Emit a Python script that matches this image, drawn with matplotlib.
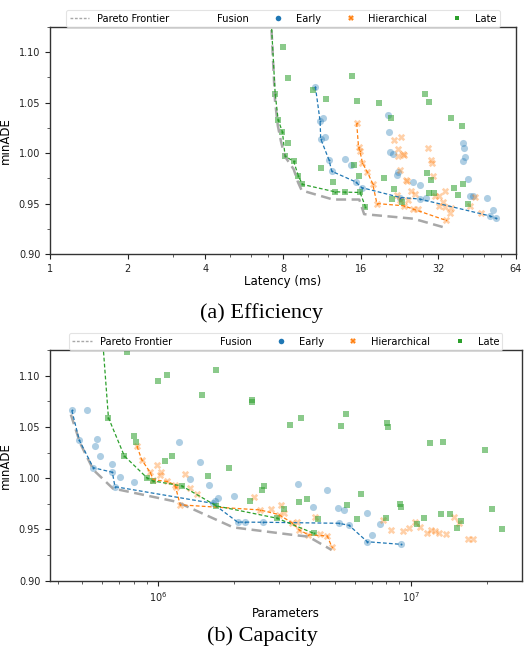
import numpy as np
import matplotlib
matplotlib.use("Agg")
import matplotlib.pyplot as plt
from matplotlib.lines import Line2D
from matplotlib.ticker import FixedLocator, FixedFormatter, NullFormatter, LogLocator

# ---------------- data: (a) Efficiency (latency in ms) ----------------
early_lat = [10.68, 11.14, 11.40, 11.2, 11.6, 12.07, 12.36, 13.92, 14.63, 15.3, 16.15,
             20.36, 20.67, 20.8, 21.3, 22.3, 22.1, 25.6, 27.1, 22.8, 28.7, 27.1,
             39.9, 40.4, 40.5, 40.0, 41.8, 42.6, 43.6, 49.4, 52.1, 50.6, 53.7]
early_ade_a = [1.066, 1.0316, 1.0352, 1.0142, 1.0155, 0.993, 0.982, 0.994, 0.988, 0.9715, 0.9658,
               1.038, 1.0214, 1.001, 0.9995, 0.981, 0.978, 0.9714, 0.9688, 0.956, 0.9555, 0.9545,
               1.010, 1.005, 0.996, 0.992, 0.974, 0.957, 0.9575, 0.9556, 0.944, 0.9378, 0.9352]

hier_lat = [15.44, 15.7, 15.9, 16.25, 17.0, 17.8, 18.5, 21.6, 23.0, 22.3, 22.4, 23.4, 23.6,
            29.3, 30.1, 30.2, 30.6, 22.7, 23.9, 24.2, 25.0, 25.9, 22.1, 22.7, 23.5, 24.4,
            25.6, 26.8, 31.1, 32.1, 34.1, 33.4, 33.9, 32.3, 35.8, 35.4, 34.3, 44.5, 42.6, 46.8]
hier_ade_a = [1.0296, 1.006, 1.002, 0.9905, 0.981, 0.9698, 0.950, 1.013, 1.016, 1.004, 0.997, 0.9995, 0.9978,
              1.005, 0.993, 0.9905, 0.9777, 0.9836, 0.9737, 0.9727, 0.9625, 0.959, 0.958, 0.9533, 0.9478, 0.9536,
              0.9445, 0.945, 0.9573, 0.9573, 0.9622, 0.9516, 0.9467, 0.948, 0.9454, 0.9408, 0.9333, 0.9563, 0.9477, 0.9405]

late_lat = [7.1, 8.0, 8.39, 14.77, 7.46, 10.43, 11.71, 15.44, 18.9, 7.66, 7.96, 8.37, 8.15, 8.80,
            11.2, 9.18, 15.13, 15.8, 12.47, 9.51, 12.69, 13.92, 15.91, 16.69, 19.64, 20.9,
            28.4, 29.5, 35.8, 39.4, 28.8, 30.0, 36.7, 40.0, 21.5, 29.4, 30.7, 38.1, 21.2, 23.1, 41.6]
late_ade_a = [1.16, 1.105, 1.074, 1.076, 1.059, 1.063, 1.054, 1.052, 1.050, 1.033, 1.021, 1.010, 0.997, 0.9918,
              0.985, 0.9773, 0.988, 0.977, 0.9714, 0.969, 0.9617, 0.9613, 0.961, 0.947, 0.975, 1.035,
              1.059, 1.051, 1.035, 1.027, 0.980, 0.973, 0.965, 0.969, 0.964, 0.9605, 0.9605, 0.958, 0.955, 0.952, 0.950]

pareto_lat = [7.1, 7.45, 7.64, 7.85, 8.12, 8.8, 9.15, 9.45, 12.5, 15.8, 16.5, 25.6, 34.1]
pareto_ade_a = [1.16, 1.052, 1.027, 1.012, 0.997, 0.984, 0.971, 0.963, 0.954, 0.954, 0.9395, 0.935, 0.926]

# ---------------- data: (b) Capacity (parameters) ----------------
early_par = [4.54e5, 5.2e5, 4.86e5, 5.7e5, 5.6e5, 5.88e5, 5.52e5, 6.53e5, 6.57e5, 7.03e5, 6.73e5, 8.03e5,
             1.205e6, 1.467e6, 1.336e6, 1.59e6, 1.73e6, 1.68e6, 1.64e6, 2.0e6, 2.06e6, 2.2e6, 2.6e6,
             3.59e6, 4.11e6, 4.65e6, 5.16e6, 5.44e6, 5.19e6, 5.7e6, 6.73e6, 7.55e6, 7.03e6, 6.73e6, 9.12e6]
early_ade_b = [1.066, 1.066, 1.037, 1.038, 1.0317, 1.022, 1.0102, 1.014, 1.0058, 1.0015, 0.9917, 0.9963,
               1.0356, 1.0161, 0.9995, 0.9937, 0.981, 0.978, 0.9755, 0.9826, 0.9572, 0.9571, 0.9570,
               0.9943, 0.972, 0.9885, 0.9712, 0.969, 0.956, 0.954, 0.9657, 0.9556, 0.9443, 0.938, 0.9355]

hier_par = [8.23e5, 8.6e5, 9.27e5, 9.55e5, 9.91e5, 1.025e6, 1.016e6, 1.08e6, 1.16e6, 1.17e6, 1.22e6,
            1.276e6, 1.337e6, 1.42e6, 2.40e6, 2.53e6, 2.79e6, 3.06e6, 3.15e6, 3.0e6, 3.40e6, 3.55e6,
            3.62e6, 3.93e6, 4.18e6, 4.37e6, 4.67e6, 4.87e6, 7.78e6, 8.34e6, 9.35e6, 9.87e6, 1.04e7,
            1.09e7, 1.16e7, 1.20e7, 1.25e7, 1.30e7, 1.38e7, 1.49e7, 1.56e7, 1.68e7, 1.77e7]
hier_ade_b = [1.031, 1.0178, 1.0058, 0.9985, 1.013, 1.0058, 1.003, 0.9968, 0.9937, 0.9915, 0.974,
              1.0038, 0.990, 0.9846, 0.982, 0.969, 0.9702, 0.9736, 0.9665, 0.9645, 0.9562, 0.9575,
              0.9495, 0.9448, 0.9622, 0.9456, 0.9437, 0.933, 0.9592, 0.9495, 0.9482, 0.9517, 0.9576,
              0.9527, 0.9462, 0.9492, 0.9482, 0.9462, 0.9459, 0.9619, 0.9566, 0.9407, 0.9407]

late_par = [5.87e5, 7.5e5, 1.0e6, 1.086e6, 1.70e6, 1.49e6, 2.34e6, 2.36e6, 3.33e6, 3.68e6, 5.55e6, 5.3e6,
            8.04e6, 8.15e6, 1.19e7, 1.34e7, 1.97e7, 6.34e5, 7.33e5, 8.0e5, 8.19e5, 1.063e6, 1.133e6,
            9.0e5, 9.55e5, 1.24e6, 1.57e6, 1.91e6, 1.70e6, 2.31e6, 2.57e6, 2.62e6, 3.16e6, 2.96e6,
            3.62e6, 3.89e6, 4.13e6, 4.31e6, 5.6e6, 6.37e6, 6.13e6, 7.96e6, 9.08e6, 9.19e6, 1.06e7,
            1.13e7, 1.315e7, 1.43e7, 1.52e7, 1.59e7, 2.10e7, 2.31e7]
late_ade_b = [1.17, 1.1228, 1.0948, 1.1004, 1.1053, 1.0809, 1.0763, 1.0746, 1.0519, 1.0587, 1.0623, 1.0509,
              1.0541, 1.0502, 1.0346, 1.0353, 1.0275, 1.059, 1.0217, 1.0415, 1.035, 1.0165, 1.0214,
              1.0005, 0.9973, 0.9924, 1.0018, 1.0097, 0.9729, 0.9778, 0.9885, 0.9924, 0.9697, 0.9609,
              0.9771, 0.980, 0.9462, 0.9605, 0.9736, 0.9849, 0.9605, 0.9615, 0.9745, 0.9722, 0.9553,
              0.9612, 0.9648, 0.9654, 0.9517, 0.9585, 0.970, 0.9504]

pareto_par = [4.5e5, 4.9e5, 5.53e5, 6.6e5, 1.18e6, 1.98e6, 3.43e6, 3.93e6, 4.86e6]
pareto_ade_b = [1.062, 1.034, 1.008, 0.990, 0.977, 0.952, 0.9446, 0.943, 0.930]

fusion_names = ["Early", "Hierarchical", "Late"]
colors = {"Early": "#1f77b4", "Hierarchical": "#ff7f0e", "Late": "#2ca02c"}
markers = {"Early": "o", "Hierarchical": "X", "Late": "s"}
sizes = {"Early": 26, "Hierarchical": 28, "Late": 13}
alphas = {"Early": 0.36, "Hierarchical": 0.36, "Late": 0.55}


def frontier(x, y):
    x = np.asarray(x, float)
    y = np.asarray(y, float)
    order = np.argsort(x, kind="stable")
    fx, fy, best = [], [], np.inf
    for i in order:
        if y[i] < best:
            fx.append(x[i]); fy.append(y[i]); best = y[i]
    return fx, fy


plt.rcParams["font.family"] = ["DejaVu Sans"]
fig = plt.figure(figsize=(5.24, 6.54), dpi=100)
ax1 = fig.add_axes([50 / 524, 1 - 254 / 654, 466 / 524, 227 / 654])
ax2 = fig.add_axes([50 / 524, 1 - 580.7 / 654, 471.5 / 524, 230.7 / 654])

panels = [
    (ax1, {"Early": (early_lat, early_ade_a), "Hierarchical": (hier_lat, hier_ade_a),
           "Late": (late_lat, late_ade_a)}, (pareto_lat, pareto_ade_a)),
    (ax2, {"Early": (early_par, early_ade_b), "Hierarchical": (hier_par, hier_ade_b),
           "Late": (late_par, late_ade_b)}, (pareto_par, pareto_ade_b)),
]

for ax, series, (px, py) in panels:
    for name in fusion_names:
        x, y = series[name]
        ax.scatter(x, y, s=sizes[name], marker=markers[name], color=colors[name],
                   alpha=alphas[name], linewidths=0, zorder=2)
    ax.plot(px, py, color="#a8a8a8", lw=1.8, dashes=(4, 2.2), zorder=3)
    for name in fusion_names:
        x, y = series[name]
        fx, fy = frontier(x, y)
        ax.plot(fx, fy, color=colors[name], lw=0.9, dashes=(3, 1.8), marker=markers[name],
                markersize=1.4, markeredgewidth=0, zorder=4)
    ax.set_ylim(0.90, 1.125)
    ax.set_yticks([0.90, 0.95, 1.00, 1.05, 1.10])
    ax.set_yticklabels(["0.90", "0.95", "1.00", "1.05", "1.10"])
    ax.yaxis.set_minor_locator(FixedLocator([0.925, 0.975, 1.025, 1.075, 1.125]))
    ax.set_ylabel("minADE", fontsize=8.5, labelpad=5)
    ax.tick_params(which="major", labelsize=7, length=3.5, width=0.8, colors="#222222")
    ax.tick_params(which="minor", length=2, width=0.6, colors="#444444")
    for sp in ax.spines.values():
        sp.set_color("#333333")
        sp.set_linewidth(1.0)

# top axis: log2 latency
ax1.set_xscale("log", base=2)
ax1.set_xlim(1, 64)
ax1.xaxis.set_major_locator(FixedLocator([1, 2, 4, 8, 16, 32, 64]))
ax1.xaxis.set_major_formatter(FixedFormatter(["1", "2", "4", "8", "16", "32", "64"]))
ax1.xaxis.set_minor_locator(FixedLocator([3, 5, 6, 7, 10, 12, 14, 20, 24, 28, 40, 48, 56]))
ax1.xaxis.set_minor_formatter(NullFormatter())
ax1.set_xlabel("Latency (ms)", fontsize=8.5, labelpad=1)

# bottom axis: log10 parameters
ax2.set_xscale("log")
ax2.set_xlim(3.72e5, 2.75e7)
ax2.xaxis.set_major_locator(FixedLocator([1e6, 1e7]))
ax2.xaxis.set_major_formatter(FixedFormatter([r"$10^6$", r"$10^7$"]))
ax2.xaxis.set_minor_locator(LogLocator(base=10, subs=np.arange(2, 10)))
ax2.xaxis.set_minor_formatter(NullFormatter())
ax2.set_xlabel("Parameters", fontsize=8.5, labelpad=2)

# legends
for ax in (ax1, ax2):
    handles = [Line2D([], [], color="#a8a8a8", lw=1.0, dashes=(2, 1.2)),
               Line2D([], [], color="none")]
    labels = ["Pareto Frontier", "Fusion"]
    for name in fusion_names:
        handles.append(Line2D([], [], ls="none", marker=markers[name], color=colors[name],
                              markersize=4 if name != "Late" else 3.2, markeredgewidth=0))
        labels.append(name)
    leg = ax.legend(handles, labels, ncol=5, loc="lower center", bbox_to_anchor=(0.5, 1.0),
                    fontsize=7.1, frameon=True, borderaxespad=0.0, handlelength=2.0,
                    columnspacing=2.0, handletextpad=0.8, borderpad=0.35)
    leg.get_frame().set_edgecolor("#dddddd")
    leg.get_frame().set_linewidth(0.8)

fig.text(0.5, 1 - 313 / 654, "(a) Efficiency", ha="center", va="center",
         family=["Liberation Serif", "DejaVu Serif"], fontsize=16)
fig.text(0.5, 1 - 636 / 654, "(b) Capacity", ha="center", va="center",
         family=["Liberation Serif", "DejaVu Serif"], fontsize=16)

fig.savefig("out.png", dpi=100)
